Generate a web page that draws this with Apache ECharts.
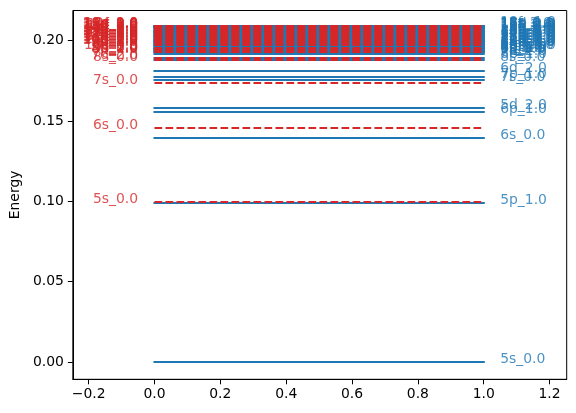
<!DOCTYPE html>
<html>
<head>
<meta charset="utf-8">
<script src="https://cdn.jsdelivr.net/npm/echarts@6/dist/echarts.min.js"></script>
<style>
  html, body { margin: 0; padding: 0; background: #fff; }
  #chart { width: 576px; height: 413px; }
</style>
</head>
<body>
<div id="chart"></div>
<script>
// ---- data ----
const blueEnergy = [
  0.0000, 0.0991, 0.1396, 0.1557, 0.1582, 0.1754, 0.1775, 0.1811, 0.1879, 0.1896, 0.1915,
  0.1929, 0.1933, 0.1938, 0.1943, 0.1948, 0.1952, 0.1957, 0.1961, 0.1966, 0.1971,
  0.1976, 0.1980, 0.1985, 0.1990, 0.1994, 0.1999, 0.2004, 0.2008, 0.2013, 0.2017,
  0.2022, 0.2027, 0.2032, 0.2036, 0.2041, 0.2046, 0.2050, 0.2055, 0.2060, 0.2064,
  0.2069, 0.2073, 0.2078, 0.2082, 0.2085, 0.2088, 0.2091, 0.2093, 0.2095
];
const blueLabels = [
  "5s_0.0", "5p_1.0", "6s_0.0", "6p_1.0", "5d_2.0", "7s_0.0", "7p_1.0", "6d_2.0", "8s_0.0", "8p_1.0", "7d_2.0",
  "9s_0.0", "4f_3.0", "9p_1.0", "8d_2.0", "5f_3.0", "10s_0.0", "10p_1.0", "9d_2.0", "6f_3.0", "11s_0.0",
  "11p_1.0", "10d_2.0", "7f_3.0", "12s_0.0", "12p_1.0", "11d_2.0", "8f_3.0", "13s_0.0", "13p_1.0", "12d_2.0",
  "9f_3.0", "14s_0.0", "14p_1.0", "13d_2.0", "10f_3.0", "15s_0.0", "15p_1.0", "14d_2.0", "11f_3.0", "16s_0.0",
  "16p_1.0", "15d_2.0", "12f_3.0", "17s_0.0", "17p_1.0", "16d_2.0", "13f_3.0", "18s_0.0", "18p_1.0"
];
const redEnergy = [
  0.0998, 0.1458, 0.1738, 0.1879, 0.1895,
  0.1929, 0.1933, 0.1938, 0.1943, 0.1948, 0.1954, 0.1976, 0.1980, 0.1985, 0.1990,
  0.1994, 0.1999, 0.2004, 0.2008, 0.2013, 0.2017, 0.2022, 0.2027, 0.2032, 0.2036,
  0.2041, 0.2046, 0.2050, 0.2055, 0.2060, 0.2064, 0.2069, 0.2073, 0.2078, 0.2082,
  0.2085, 0.2088, 0.2091, 0.2094
];
const redLabels = [
  "5s_0.0", "6s_0.0", "7s_0.0", "8s_0.0", "7d_2.0",
  "8p_1.0", "9s_0.0", "8d_2.0", "7f_3.0", "9p_1.0", "10s_0.0", "9d_2.0", "8f_3.0", "10p_1.0", "11s_0.0",
  "10d_2.0", "9f_3.0", "11p_1.0", "12s_0.0", "11d_2.0", "10f_3.0", "12p_1.0", "13s_0.0", "12d_2.0", "11f_3.0",
  "13p_1.0", "14s_0.0", "13d_2.0", "12f_3.0", "14p_1.0", "15s_0.0", "14d_2.0", "13f_3.0", "15p_1.0", "16s_0.0",
  "15d_2.0", "14f_3.0", "16p_1.0", "17s_0.0"
];
const xTicks = [-0.2, 0.0, 0.2, 0.4, 0.6, 0.8, 1.0, 1.2];
const yTicks = [0.00, 0.05, 0.10, 0.15, 0.20];
const levelStart = 0, levelEnd = 1;
const blueLabelX = 1.05, redLabelX = -0.05;

// ---- chart ----
const FONT = 'DejaVu Sans';
const FS = 13.9;
const BLUE = '#1f77b4', RED = '#d62728';
const chart = echarts.init(document.getElementById('chart'), null, { renderer: 'canvas' });

const option = {
  animation: false,
  backgroundColor: '#ffffff',
  grid: {
    left: 70.7, right: 9.3, top: 10.5, bottom: 33.7,
    show: true, borderColor: '#000', borderWidth: 1, backgroundColor: 'transparent',
    containLabel: false
  },
  xAxis: {
    type: 'value', min: -0.248, max: 1.252,
    splitLine: { show: false },
    axisLine: { show: true, onZero: false, lineStyle: { color: '#000', width: 1 } },
    axisTick: { show: true, length: 5, customValues: xTicks, lineStyle: { color: '#000', width: 1 } },
    axisLabel: {
      customValues: xTicks, margin: 8, color: '#000', fontSize: FS, fontFamily: FONT,
      formatter: v => v.toFixed(1).replace('-', '\u2212')
    }
  },
  yAxis: {
    type: 'value', min: -0.0108, max: 0.2187,
    name: 'Energy', nameLocation: 'middle', nameGap: 49, nameRotate: 90,
    nameTextStyle: { color: '#000', fontSize: FS, fontFamily: FONT },
    splitLine: { show: false },
    axisLine: { show: true, onZero: false, lineStyle: { color: '#000', width: 1 } },
    axisTick: { show: true, length: 5, customValues: yTicks, lineStyle: { color: '#000', width: 1 } },
    axisLabel: {
      customValues: yTicks, margin: 9, color: '#000', fontSize: FS, fontFamily: FONT,
      formatter: v => v.toFixed(2)
    }
  },
  series: [
    {
      type: 'lines', coordinateSystem: 'cartesian2d', polyline: false, silent: true, z: 2,
      lineStyle: { color: BLUE, width: 2.08, opacity: 1, cap: 'square' },
      data: blueEnergy.map(e => ({ coords: [[levelStart, e], [levelEnd, e]] }))
    },
    {
      type: 'lines', coordinateSystem: 'cartesian2d', polyline: false, silent: true, z: 3,
      lineStyle: { color: RED, width: 2.08, opacity: 1, type: [7.7, 3.3], cap: 'butt' },
      data: redEnergy.map(e => ({ coords: [[levelStart, e], [levelEnd, e]] }))
    },
    {
      type: 'scatter', symbolSize: 0, silent: true, z: 5,
      data: blueEnergy.map((e, i) => [blueLabelX, e, blueLabels[i]]),
      label: {
        show: true, position: 'right', distance: 0, offset: [0, -2.5],
        formatter: p => p.data[2], color: BLUE, fontSize: FS, fontFamily: FONT
      },
      emphasis: { disabled: true }
    },
    {
      type: 'scatter', symbolSize: 0, silent: true, z: 5,
      data: redEnergy.map((e, i) => [redLabelX, e, redLabels[i]]),
      label: {
        show: true, position: 'left', distance: 0, offset: [0, -2.5],
        formatter: p => p.data[2], color: RED, fontSize: FS, fontFamily: FONT
      },
      emphasis: { disabled: true }
    }
  ]
};
chart.setOption(option);
</script>
</body>
</html>
